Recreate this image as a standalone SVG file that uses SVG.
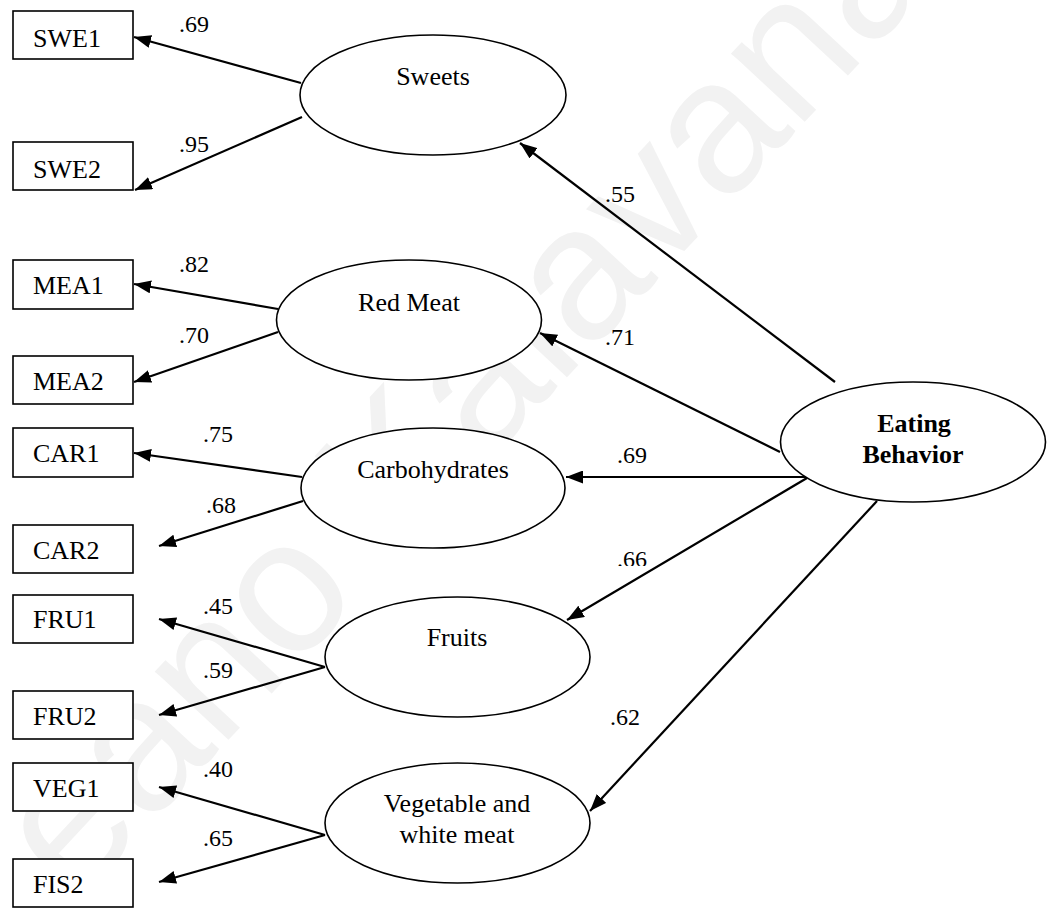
<svg xmlns="http://www.w3.org/2000/svg" width="1050" height="911" viewBox="0 0 1050 911">
  <style>
    .box { fill: #ffffff; stroke: #000000; stroke-width: 1.6; }
    .latent { fill: #ffffff; stroke: #000000; stroke-width: 1.6; }
    .lbl { font-family: "Liberation Serif", "Times New Roman", serif; font-size: 26px; fill: #000000; }
    .mid { text-anchor: middle; }
    .bold { font-weight: bold; }
    .coef { font-family: "Liberation Serif", "Times New Roman", serif; font-size: 24px; fill: #000000; }
    .path { stroke: #000000; stroke-width: 2.2; fill: none; marker-end: url(#head); }
    .mark { font-family: "Liberation Sans", Arial, sans-serif; font-size: 190px; fill: #f2f2f2; }
  </style>
  <defs>
    <marker id="head" markerUnits="userSpaceOnUse" markerWidth="18" markerHeight="13" refX="17" refY="6.5" orient="auto">
      <path d="M0,0 L17,6.5 L0,13 z" fill="#000000"/>
    </marker>
    <clipPath id="clip66"><rect x="600" y="540" width="70" height="26"/></clipPath>
    <clipPath id="clip45"><rect x="195" y="598" width="60" height="30"/></clipPath>
  </defs>

  <rect width="1050" height="911" fill="#ffffff"/>

  <!-- faint diagonal watermark -->
  <text class="mark" transform="translate(400,556) rotate(-47)" x="-476" y="0">eano Kalavana</text>

  <!-- connectors -->
  <g id="connectors">
    <line class="path" x1="301" y1="83" x2="134" y2="37"/>
    <line class="path" x1="302" y1="117" x2="135" y2="190"/>
    <line class="path" x1="278" y1="309" x2="134" y2="284"/>
    <line class="path" x1="278" y1="332" x2="134" y2="382"/>
    <line class="path" x1="302" y1="477" x2="134" y2="453"/>
    <line class="path" x1="303" y1="501" x2="159" y2="546"/>
    <line class="path" x1="325" y1="667" x2="159" y2="619"/>
    <line class="path" x1="325" y1="667" x2="159" y2="715"/>
    <line class="path" x1="325" y1="835" x2="159" y2="787"/>
    <line class="path" x1="325" y1="835" x2="159" y2="882"/>
    <line class="path" x1="835" y1="382" x2="520" y2="143"/>
    <line class="path" x1="780" y1="452" x2="540" y2="333"/>
    <line class="path" x1="807" y1="477" x2="566" y2="477"/>
    <line class="path" x1="807" y1="478" x2="567" y2="620"/>
    <line class="path" x1="877" y1="501" x2="590" y2="811"/>

    <!-- loadings -->
    <text class="coef" x="179" y="32">.69</text>
    <text class="coef" x="179" y="152">.95</text>
    <text class="coef" x="179" y="272">.82</text>
    <text class="coef" x="179" y="343">.70</text>
    <text class="coef" x="203" y="442">.75</text>
    <text class="coef" x="206" y="513">.68</text>
    <text class="coef" x="203" y="614" clip-path="url(#clip45)">.45</text>
    <text class="coef" x="203" y="678">.59</text>
    <text class="coef" x="203" y="777">.40</text>
    <text class="coef" x="203" y="846">.65</text>
    <text class="coef" x="605" y="202">.55</text>
    <text class="coef" x="605" y="345">.71</text>
    <text class="coef" x="617" y="463">.69</text>
    <text class="coef" x="617" y="567" clip-path="url(#clip66)">.66</text>
    <text class="coef" x="610" y="725">.62</text>
  </g>

  <!-- observed indicators -->
  <g id="SWE1"><rect class="box" x="13" y="11" width="120" height="48"/><text class="lbl" x="33" y="47">SWE1</text></g>
  <g id="SWE2"><rect class="box" x="13" y="142" width="120" height="48"/><text class="lbl" x="33" y="178">SWE2</text></g>
  <g id="MEA1"><rect class="box" x="13" y="260" width="120" height="49"/><text class="lbl" x="33" y="294">MEA1</text></g>
  <g id="MEA2"><rect class="box" x="13" y="356" width="120" height="48"/><text class="lbl" x="33" y="390">MEA2</text></g>
  <g id="CAR1"><rect class="box" x="13" y="428" width="120" height="49"/><text class="lbl" x="33" y="462">CAR1</text></g>
  <g id="CAR2"><rect class="box" x="13" y="525" width="120" height="48"/><text class="lbl" x="33" y="559">CAR2</text></g>
  <g id="FRU1"><rect class="box" x="13" y="595" width="120" height="48"/><text class="lbl" x="33" y="628">FRU1</text></g>
  <g id="FRU2"><rect class="box" x="13" y="691" width="120" height="48"/><text class="lbl" x="33" y="725">FRU2</text></g>
  <g id="VEG1"><rect class="box" x="13" y="763" width="120" height="48"/><text class="lbl" x="33" y="797">VEG1</text></g>
  <g id="FIS2"><rect class="box" x="13" y="859" width="120" height="48"/><text class="lbl" x="33" y="893">FIS2</text></g>

  <!-- latent factors -->
  <g id="sweets"><ellipse class="latent" cx="433" cy="95" rx="133" ry="60"/><text class="lbl mid" x="433" y="85">Sweets</text></g>
  <g id="red-meat"><ellipse class="latent" cx="409" cy="320" rx="132.5" ry="60"/><text class="lbl mid" x="409" y="311">Red Meat</text></g>
  <g id="carbohydrates"><ellipse class="latent" cx="433" cy="488" rx="132" ry="60"/><text class="lbl mid" x="433" y="478">Carbohydrates</text></g>
  <g id="fruits"><ellipse class="latent" cx="457.5" cy="657" rx="132.5" ry="60"/><text class="lbl mid" x="457" y="646">Fruits</text></g>
  <g id="vegetable"><ellipse class="latent" cx="457.5" cy="823" rx="132.5" ry="60"/><text class="lbl mid" x="457" y="812">Vegetable and</text><text class="lbl mid" x="457" y="843">white meat</text></g>
  <g id="eating-behavior"><ellipse class="latent" cx="913" cy="442" rx="132.5" ry="60"/><text class="lbl mid bold" x="914" y="432">Eating</text><text class="lbl mid bold" x="913" y="463">Behavior</text></g>
</svg>
